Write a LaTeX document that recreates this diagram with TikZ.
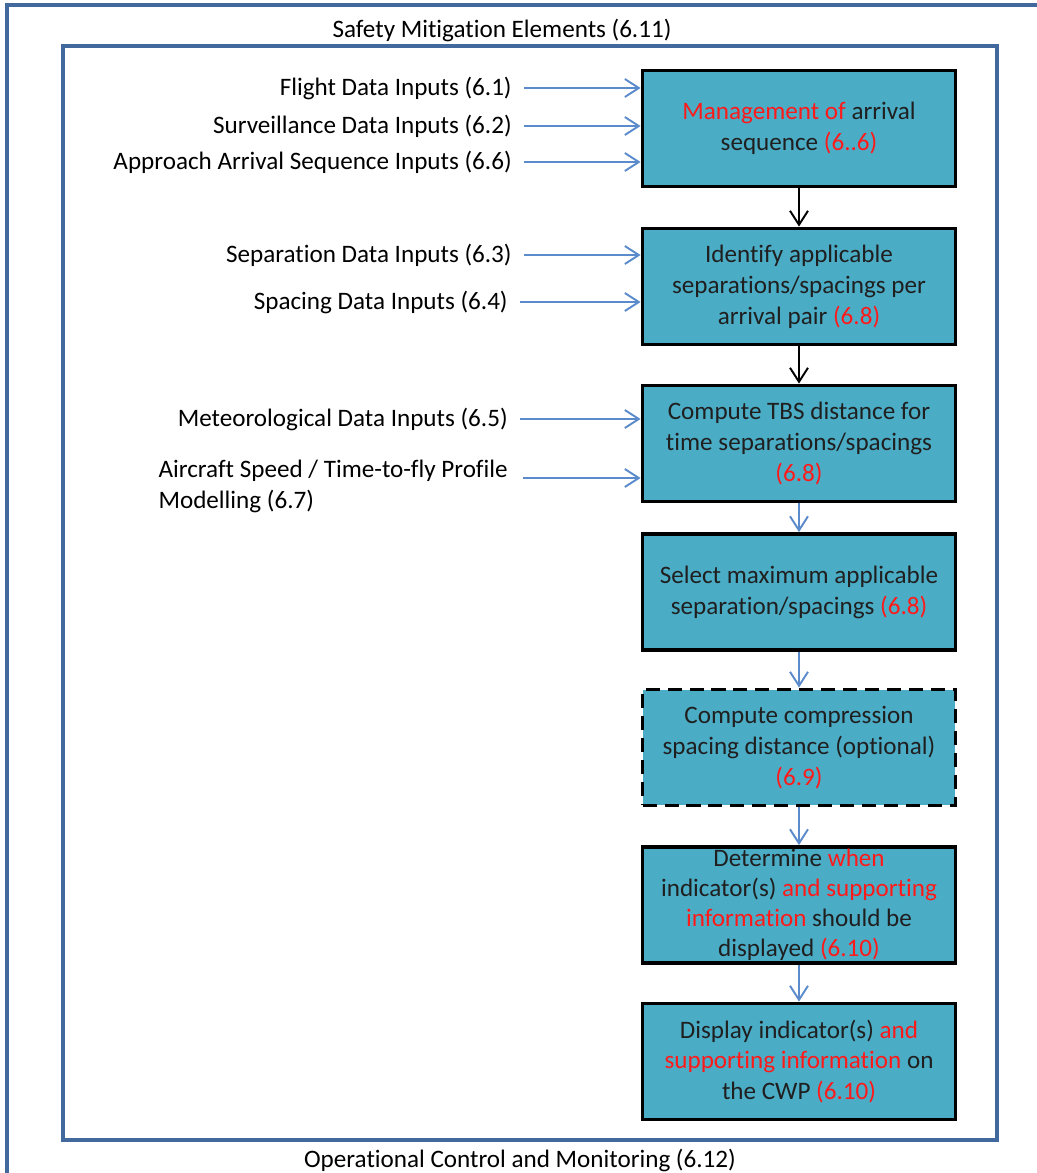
\documentclass[tikz,border=0pt]{standalone}
\usepackage{fontspec}
\setmainfont[Ligatures=NoCommon]{Carlito}
\usetikzlibrary{arrows.meta}
\definecolor{framecol}{HTML}{41699D}
\definecolor{boxcol}{HTML}{4BACC6}
\definecolor{arrcol}{HTML}{5B8BCB}
\definecolor{hlred}{HTML}{FF1A1A}
\newcommand{\hl}[1]{\textcolor{hlred}{#1}}
\tikzset{
  every node/.style={font=\fontsize{14.3}{17.6}\selectfont},
  frame/.style={draw=framecol, line width=2.2pt},
  stepbox/.style={draw=black, line width=2.2pt, fill=boxcol, text=black!88,
                  minimum width=6.26cm, minimum height=2.32cm, align=center, inner sep=0pt},
  optbox/.style={stepbox, dash pattern=on 8pt off 4.5pt},
  inlabel/.style={anchor=east, inner sep=0pt, outer sep=7pt},
  inarrow/.style={draw=arrcol, line width=1.1pt, -{Straight Barb[length=0.28cm,width=0.36cm]}},
  flowarrow/.style={draw=black, line width=1.1pt, -{Straight Barb[length=0.28cm,width=0.36cm]}},
  flowarrowb/.style={inarrow}
}

\begin{document}
\begin{tikzpicture}[x=0.02cm, y=-0.02cm]
   \useasboundingbox (0,0) rectangle (1037,1173);
   \clip (0,0) rectangle (1037,1173);
   % frames
   \draw[frame] (7,5) rectangle (1070,1210);
   \draw[frame] (63,46) rectangle (997,1140);
   \node (smetitle) at (502,30) {Safety Mitigation Elements (6.11)};
   \node (ocmtitle) at (520,1160) {Operational Control and Monitoring (6.12)};

   % process steps
   \node[stepbox] (mgmt)   at (799,128.5) {\hl{Management of} arrival\\ sequence \hl{(6..6)}};
   \node[stepbox] (ident)  at (799,286.5) {Identify applicable\\ separations/spacings per\\ arrival pair \hl{(6.8)}};
   \node[stepbox] (tbs)    at (799,443.5) {Compute TBS distance for\\ time separations/spacings\\ \hl{(6.8)}};
   \node[stepbox] (selmax) at (799,592)   {Select maximum applicable\\ separation/spacings \hl{(6.8)}};
   \node[optbox]  (compr)  at (799,747.5) {Compute compression\\ spacing distance (optional)\\ \hl{(6.9)}};
   \node[stepbox, font=\fontsize{14.3}{17}\selectfont] (when) at (799,905)
        {Determine \hl{when}\\ indicator(s) \hl{and supporting}\\ \hl{information} should be\\ displayed \hl{(6.10)}};
   \node[stepbox] (disp)   at (799,1061.5) {Display indicator(s) \hl{and}\\ \hl{supporting information} on\\ the CWP \hl{(6.10)}};

   \draw[flowarrow]  (mgmt)   -- (ident);
   \draw[flowarrow]  (ident)  -- (tbs);
   \draw[flowarrowb] (tbs)    -- (selmax);
   \draw[flowarrowb] (selmax) -- (compr);
   \draw[flowarrowb] (compr)  -- (when);
   \draw[flowarrowb] (when)   -- (disp);

   % inputs
   \node[inlabel] (fdi)  at (524,88)  {Flight Data Inputs (6.1)};
   \node[inlabel] (sdi)  at (524,126) {Surveillance Data Inputs (6.2)};
   \node[inlabel] (aasi) at (524,162) {Approach Arrival Sequence Inputs (6.6)};
   \node[inlabel] (sepi) at (524,255) {Separation Data Inputs (6.3)};
   \node[inlabel] (spci) at (520,302) {Spacing Data Inputs (6.4)};
   \node[inlabel] (meti) at (520,419) {Meteorological Data Inputs (6.5)};
   \node[inlabel, align=left] (acsi) at (520,486) {Aircraft Speed / Time-to-fly Profile\\ Modelling (6.7)};
   \coordinate (acsin) at (523,478);

   \draw[inarrow] (fdi.east)  -- (fdi.east -| mgmt.west);
   \draw[inarrow] (sdi.east)  -- (sdi.east -| mgmt.west);
   \draw[inarrow] (aasi.east) -- (aasi.east -| mgmt.west);
   \draw[inarrow] (sepi.east) -- (sepi.east -| ident.west);
   \draw[inarrow] (spci.east) -- (spci.east -| ident.west);
   \draw[inarrow] (meti.east) -- (meti.east -| tbs.west);
   \draw[inarrow] (acsin)     -- (acsin -| tbs.west);
\end{tikzpicture}
\end{document}
